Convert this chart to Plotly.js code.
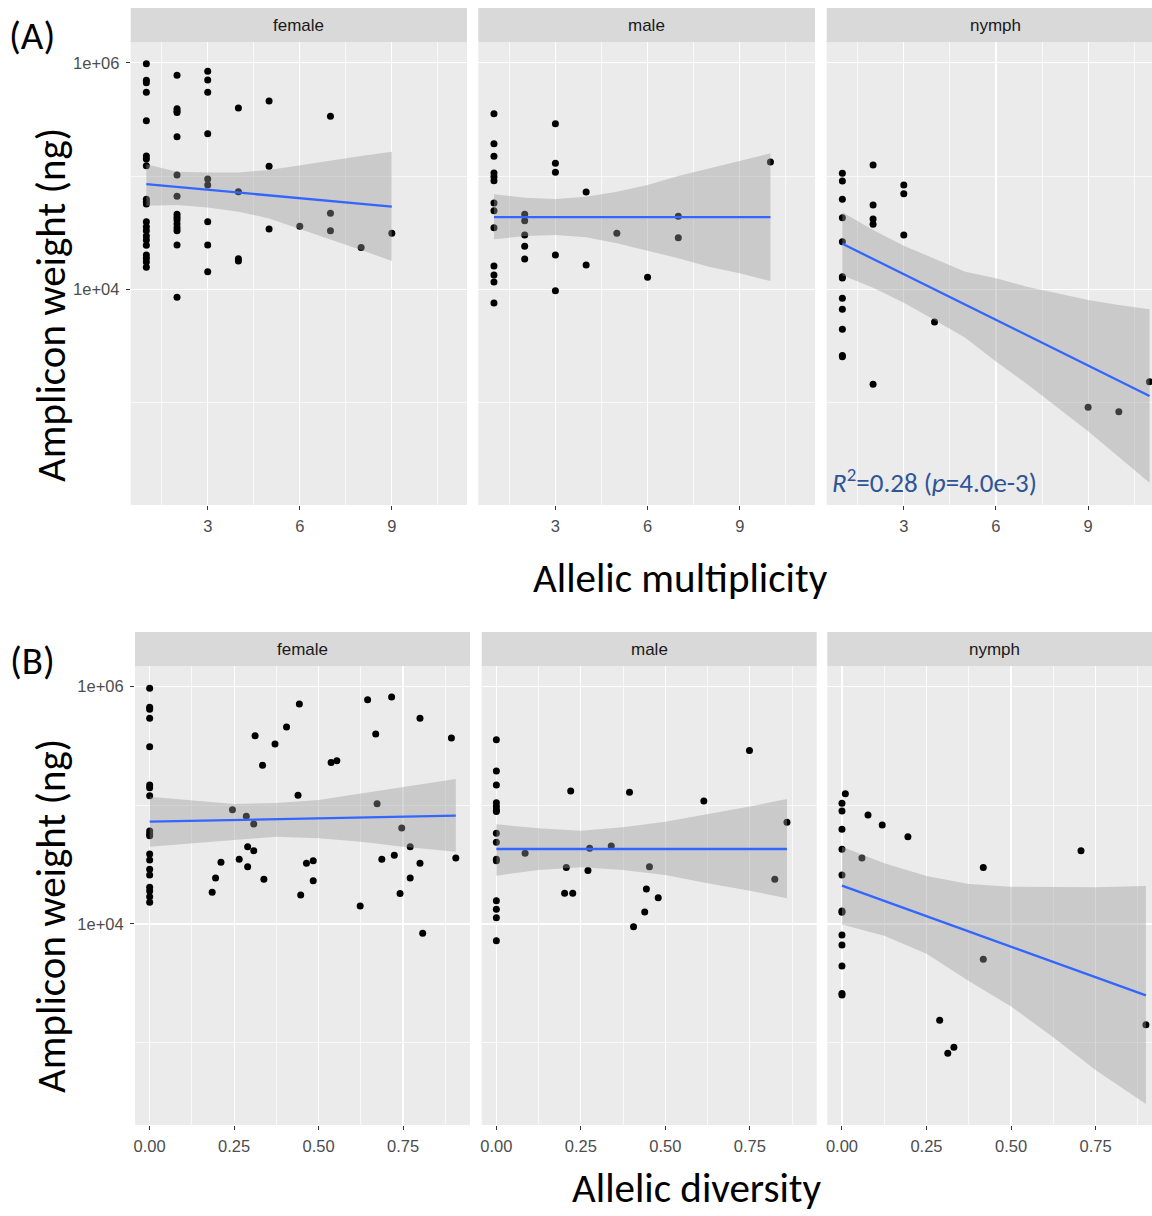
<!DOCTYPE html>
<html><head><meta charset="utf-8">
<script src="https://cdn.plot.ly/plotly-3.0.1.min.js"></script>
<style>html,body{margin:0;padding:0;background:#fff;overflow:hidden}#chart{width:1152px;height:1216px}</style>
</head><body><div id="chart"></div>
<script>
// ================= DATA (amplicon weight as log10(ng)) =================
// Panel A : Allelic multiplicity
const femaleA_x = [1,1,1,1,1,1,1,1,1,1,1,1,1,1,1,1,1,1,1,1,1, 2,2,2,2,2,2,2,2,2,2,2,2,2,2,2, 3,3,3,3,3,3,3,3,3, 4,4,4,4, 5,5,5, 6, 7,7,7, 8, 9];
const femaleA_y = [5.991,5.845,5.824,5.739,5.488,5.177,5.150,5.091,4.794,4.773,4.753,4.597,4.553,4.517,4.470,4.435,4.388,4.303,4.274,4.241,4.194,
  5.889,5.594,5.574,5.560,5.347,5.009,4.821,4.662,4.635,4.612,4.576,4.544,4.517,4.391,3.930,
  5.924,5.847,5.739,5.374,4.974,4.921,4.597,4.391,4.155,
  5.600,4.862,4.270,4.250, 5.662,5.086,4.532, 4.556, 5.527,4.671,4.517, 4.368, 4.494];
const maleA_x = [1,1,1,1,1,1,1,1,1,1,1,1,1, 2,2,2,2,2, 3,3,3,3,3, 4,4, 5, 6, 7,7, 10];
const maleA_y = [5.550,5.285,5.174,5.026,4.994,4.959,4.762,4.694,4.544,4.206,4.126,4.065,3.879,
  4.662,4.606,4.479,4.379,4.267, 5.462,5.112,5.033,4.303,3.988, 4.859,4.215, 4.494, 4.106, 4.644,4.456, 5.124];
const nymphA_x = [1,1,1,1,1,1,1,1,1,1,1,1, 2,2,2,2,2, 3,3,3, 4, 9, 10, 11];
const nymphA_y = [5.024,4.956,4.794,4.632,4.420,4.111,4.100,3.920,3.823,3.647,3.415,3.405,
  5.097,4.744,4.620,4.574,3.162, 4.921,4.844,4.479, 3.712, 2.959, 2.920, 3.184];

// fitted lines and 95% bands
const femaleA_fit_x = [1, 9], femaleA_fit_y = [4.929, 4.729];
const maleA_fit_x = [1, 10], maleA_fit_y = [4.638, 4.638];
const nymphA_fit_x = [1, 11], nymphA_fit_y = [4.402, 3.058];
const femaleA_band_x = [1,2,3,4,5,6,7,8,9];
const femaleA_band_hi = [5.103,5.038,5.030,5.030,5.054,5.097,5.135,5.177,5.215];
const femaleA_band_lo = [4.738,4.744,4.723,4.685,4.626,4.538,4.441,4.347,4.250];
const maleA_band_x = [1,2,3,4,5,6,7,8,9,10];
const maleA_band_hi = [4.838,4.809,4.797,4.818,4.862,4.921,5.000,5.068,5.133,5.200];
const maleA_band_lo = [4.441,4.470,4.479,4.459,4.406,4.341,4.274,4.200,4.141,4.073];
const nymphA_band_x = [1,2,3,4,5,6,7,8,9,10,11];
const nymphA_band_hi = [4.680,4.523,4.385,4.270,4.155,4.097,4.023,3.965,3.906,3.862,3.823];
const nymphA_band_lo = [4.124,4.013,3.881,3.728,3.573,3.363,3.167,2.957,2.748,2.522,2.293];

// Panel B : Allelic diversity
const femaleB_x = [0,0,0,0,0,0,0,0,0,0,0,0,0,0,0,0,0,0,0,
  0.185,0.195,0.211,0.245,0.265,0.286,0.290,0.290,0.308,0.308,0.312,0.334,0.338,0.371,0.405,0.439,0.443,0.447,0.464,0.484,0.484,
  0.537,0.554,0.623,0.645,0.669,0.673,0.687,0.716,0.724,0.741,0.746,0.771,0.771,0.800,0.800,0.808,0.893,0.906];
const femaleB_y = [5.986,5.826,5.809,5.734,5.494,5.171,5.149,5.081,4.784,4.759,4.744,4.590,4.539,4.461,4.413,4.309,4.278,4.230,4.183,
  4.267,4.388,4.520,4.963,4.545,4.908,4.651,4.483,4.843,4.618,5.587,5.338,4.377,5.517,5.660,5.085,5.854,4.244,4.511,4.533,4.365,
  5.360,5.376,4.152,5.890,5.601,5.014,4.545,5.913,4.579,4.256,4.809,4.651,4.388,5.734,4.511,3.922,5.568,4.556];
const maleB_x = [0,0,0,0,0,0,0,0,0,0,0,0,0,0,0,
  0.085,0.207,0.202,0.226,0.220,0.271,0.276,0.340,0.394,0.406,0.439,0.444,0.453,0.479,0.614,0.749,0.824,0.860];
const maleB_y = [5.553,5.289,5.171,5.022,4.989,4.961,4.947,4.764,4.689,4.545,4.533,4.196,4.124,4.053,3.859,
  4.596,4.475,4.259,4.259,5.121,4.450,4.638,4.657,5.110,3.977,4.101,4.295,4.483,4.222,5.037,5.461,4.377,4.857];
const nymphB_x = [0,0,0,0,0,0,0,0,0,0,0,0, 0.010,0.077,0.119,0.195,0.059,0.418,0.707,0.418,0.289,0.313,0.331,0.899];
const nymphB_y = [5.017,4.952,4.798,4.630,4.413,4.110,4.098,3.907,3.823,3.646,3.414,3.402,
  5.098,4.919,4.834,4.736,4.556,4.475,4.618,3.702,3.188,2.910,2.961,3.151];

const femaleB_fit_x = [0, 0.906], femaleB_fit_y = [4.862, 4.913];
const maleB_fit_x = [0, 0.86], maleB_fit_y = [4.632, 4.632];
const nymphB_fit_x = [0, 0.899], nymphB_fit_y = [4.323, 3.399];
const femaleB_band_x = [0,0.125,0.25,0.375,0.5,0.625,0.75,0.906];
const femaleB_band_hi = [5.073,5.045,5.011,5.020,5.045,5.100,5.157,5.222];
const femaleB_band_lo = [4.651,4.680,4.708,4.736,4.722,4.694,4.651,4.609];
const maleB_band_x = [0,0.125,0.25,0.375,0.5,0.625,0.75,0.86];
const maleB_band_hi = [4.840,4.807,4.786,4.815,4.862,4.927,4.989,5.054];
const maleB_band_lo = [4.407,4.455,4.478,4.455,4.413,4.343,4.281,4.217];
const nymphB_band_x = [0,0.125,0.25,0.375,0.5,0.625,0.75,0.899];
const nymphB_band_hi = [4.651,4.511,4.405,4.337,4.314,4.310,4.310,4.320];
const nymphB_band_lo = [3.995,3.900,3.750,3.520,3.305,3.045,2.770,2.483];

const facets = ['female','male','nymph'];
const xTicksA = [3,6,9], xTickTextA = ['3','6','9'];
const xTicksB = [0,0.25,0.5,0.75], xTickTextB = ['0.00','0.25','0.50','0.75'];
const yTicks = [1e4,1e6], yTickText = ['1e+04','1e+06'];
const xTitleA = 'Allelic multiplicity', xTitleB = 'Allelic diversity';
const yTitle = 'Amplicon weight (ng)';
const statText = '<i>R</i><sup>2</sup>=0.28 (<i>p</i>=4.0e-3)';

// ================= LAYOUT / STYLE =================
const W = 1152, H = 1216;
const toLin = a => a.map(v => Math.pow(10, v));
const fx = p => p / W, fy = p => 1 - p / H;

const panels = [
  {n:1, fac:0, x0:130.7, x1:467,   y0:42,  y1:505,  xr:[0.49,11.45], yr:[2.096,6.183], A:true},
  {n:2, fac:1, x0:478.3, x1:815,   y0:42,  y1:505,  xr:[0.49,11.45], yr:[2.096,6.183], A:true},
  {n:3, fac:2, x0:826.7, x1:1152,  y0:42,  y1:505,  xr:[0.49,11.08], yr:[2.096,6.183], A:true},
  {n:4, fac:0, x0:135,   x1:470,   y0:666, y1:1125, xr:[-0.0434,0.948], yr:[2.306,6.174], A:false},
  {n:5, fac:1, x0:481.7, x1:816.7, y0:666, y1:1125, xr:[-0.0434,0.948], yr:[2.306,6.174], A:false},
  {n:6, fac:2, x0:827.3, x1:1152,  y0:666, y1:1125, xr:[-0.0434,0.917], yr:[2.306,6.174], A:false}
];
const series = [
  [femaleA_x,femaleA_y,femaleA_fit_x,femaleA_fit_y,femaleA_band_x,femaleA_band_lo,femaleA_band_hi],
  [maleA_x,maleA_y,maleA_fit_x,maleA_fit_y,maleA_band_x,maleA_band_lo,maleA_band_hi],
  [nymphA_x,nymphA_y,nymphA_fit_x,nymphA_fit_y,nymphA_band_x,nymphA_band_lo,nymphA_band_hi],
  [femaleB_x,femaleB_y,femaleB_fit_x,femaleB_fit_y,femaleB_band_x,femaleB_band_lo,femaleB_band_hi],
  [maleB_x,maleB_y,maleB_fit_x,maleB_fit_y,maleB_band_x,maleB_band_lo,maleB_band_hi],
  [nymphB_x,nymphB_y,nymphB_fit_x,nymphB_fit_y,nymphB_band_x,nymphB_band_lo,nymphB_band_hi]
];

const tickFont = {family:'"Liberation Sans", Arial, sans-serif', size:16.5, color:'#4D4D4D'};
const titleFont = {family:'Carlito, Lato, sans-serif', size:41, color:'#000'};
const tagFont = {family:'Carlito, Lato, sans-serif', size:39, color:'#000'};

const traces = [];
const layout = {
  width:W, height:H, margin:{l:0,r:0,t:0,b:0},
  paper_bgcolor:'#fff', plot_bgcolor:'#EBEBEB', showlegend:false,
  shapes:[], annotations:[], hovermode:false
};

panels.forEach((p, i) => {
  const s = series[i];
  const xa = 'x' + (p.n === 1 ? '' : p.n), ya = 'y' + (p.n === 1 ? '' : p.n);
  // points
  traces.push({type:'scatter', mode:'markers', x:s[0], y:toLin(s[1]), xaxis:xa, yaxis:ya,
    marker:{color:'#000', size:7, line:{width:0}}, hoverinfo:'skip'});
  // confidence band
  const bx = s[4].concat(s[4].slice().reverse());
  const by = s[6].concat(s[5].slice().reverse());
  traces.push({type:'scatter', mode:'lines', x:bx, y:toLin(by), xaxis:xa, yaxis:ya, fill:'toself',
    fillcolor:'rgba(153,153,153,0.4)', line:{width:0}, hoverinfo:'skip'});
  // fit line
  traces.push({type:'scatter', mode:'lines', x:s[2], y:toLin(s[3]), xaxis:xa, yaxis:ya,
    line:{color:'#3366FF', width:2.3}, hoverinfo:'skip'});

  const xk = 'xaxis' + (p.n === 1 ? '' : p.n), yk = 'yaxis' + (p.n === 1 ? '' : p.n);
  layout[xk] = {
    domain:[fx(p.x0), Math.min(1, fx(p.x1))], range:p.xr, anchor:ya, type:'linear',
    tickmode:'array', tickvals:p.A ? xTicksA : xTicksB, ticktext:p.A ? xTickTextA : xTickTextB,
    showgrid:true, gridcolor:'#FFFFFF', gridwidth:1.2, zeroline:false, showline:false,
    ticks:'outside', ticklen:4, tickwidth:1, tickcolor:'#333333', tickfont:tickFont, ticklabelstandoff:2,
    minor:{tickmode:'array', tickvals:p.A ? [1.5,4.5,7.5,10.5] : [0.125,0.375,0.625,0.875],
      showgrid:true, gridcolor:'#FFFFFF', gridwidth:0.7, ticks:''},
    fixedrange:true
  };
  const first = (p.fac === 0);
  layout[yk] = {
    domain:[fy(p.y1), fy(p.y0)], range:p.yr, anchor:xa, type:'log',
    tickmode:'array', tickvals:yTicks, ticktext:yTickText, showticklabels:first,
    showgrid:true, gridcolor:'#FFFFFF', gridwidth:1.2, zeroline:false, showline:false,
    ticks:first ? 'outside' : '', ticklen:4, tickwidth:1, tickcolor:'#333333', tickfont:tickFont, ticklabelstandoff:3,
    minor:{tickmode:'array', tickvals:[1e3,1e5], showgrid:true, gridcolor:'#FFFFFF', gridwidth:0.7, ticks:''},
    fixedrange:true
  };
  // strip
  const sy0 = p.A ? 8 : 632, sy1 = p.A ? 42 : 666;
  layout.shapes.push({type:'rect', xref:'paper', yref:'paper', x0:fx(p.x0), x1:Math.min(1,fx(p.x1)),
    y0:fy(sy1), y1:fy(sy0), fillcolor:'#D9D9D9', line:{width:0}, layer:'below'});
  const cx = p.fac === 2 ? (p.x0 + (p.A ? 1163.6 : 1162)) / 2 : (p.x0 + p.x1) / 2;
  layout.annotations.push({xref:'paper', yref:'paper', x:fx(cx), y:fy((sy0+sy1)/2), text:facets[p.fac],
    showarrow:false, xanchor:'center', yanchor:'middle',
    font:{family:'"Liberation Sans", Arial, sans-serif', size:17, color:'#1A1A1A'}});
});

// titles and labels
const ann = (x, y, text, font, extra) => Object.assign({xref:'paper', yref:'paper', x:fx(x), y:fy(y), text,
  showarrow:false, xanchor:'center', yanchor:'middle', font}, extra || {});
layout.annotations.push(ann(680, 578, xTitleA, titleFont));
layout.annotations.push(ann(697, 1188, xTitleB, titleFont));
layout.annotations.push(ann(51, 305, yTitle, titleFont, {textangle:-90}));
layout.annotations.push(ann(51, 916, yTitle, titleFont, {textangle:-90}));
layout.annotations.push(ann(32, 36, '(A)', tagFont));
layout.annotations.push(ann(32, 660, '(B)', tagFont));
layout.annotations.push(ann(934, 481, statText, {family:'Carlito, Lato, sans-serif', size:27, color:'#2F5597'}));

Plotly.newPlot('chart', traces, layout, {displayModeBar:false, staticPlot:true});
</script>
</body></html>
